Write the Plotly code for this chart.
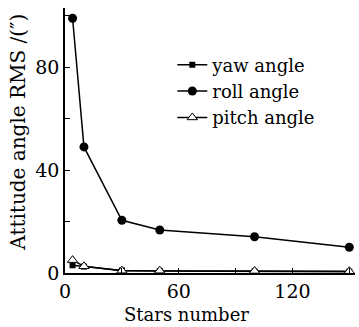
import plotly.graph_objects as go

stars = [4, 10, 30, 50, 100, 150]
yaw = [3.0, 2.5, 1.0, 0.8, 0.6, 0.5]
roll = [99.0, 49.0, 20.5, 16.7, 14.1, 10.0]
pitch = [5.0, 2.6, 0.9, 0.9, 0.8, 0.7]

x_title = "Stars number"
y_title = "Attitude angle RMS /(″)"

font_family = "DejaVu Serif"

fig = go.Figure()
fig.add_trace(go.Scatter(
    x=stars, y=roll, name="roll angle", mode="lines+markers",
    line=dict(color="black", width=1.5),
    marker=dict(symbol="circle", size=9, color="black"),
    legendrank=2,
))
fig.add_trace(go.Scatter(
    x=stars, y=yaw, name="yaw angle", mode="lines+markers",
    line=dict(color="black", width=1.5),
    marker=dict(symbol="square", size=6, color="black"),
    legendrank=1,
))
fig.add_trace(go.Scatter(
    x=stars, y=pitch, name="pitch angle", mode="lines+markers",
    line=dict(color="black", width=1.5),
    marker=dict(symbol="triangle-up", size=9, color="white",
                line=dict(color="black", width=1)),
    legendrank=3,
))

fig.update_layout(
    width=359, height=327,
    margin=dict(l=65, r=4, t=8, b=54),
    paper_bgcolor="white", plot_bgcolor="white",
    font=dict(family=font_family, size=19, color="black"),
    legend=dict(
        x=0.37, y=0.855, xanchor="left", yanchor="top",
        traceorder="normal", bgcolor="rgba(0,0,0,0)",
        font=dict(size=18), itemwidth=30, tracegroupgap=0,
    ),
    xaxis=dict(
        range=[0, 153], tickvals=[0, 30, 60, 90, 120, 150],
        ticktext=["0", "", "60", "", "120", ""],
        ticks="inside", ticklen=5, tickwidth=1.2, tickcolor="black",
        showline=True, linecolor="black", linewidth=1.5,
        showgrid=False, zeroline=False,
    ),
    yaxis=dict(
        range=[0, 103], tickvals=[0, 20, 40, 60, 80, 100],
        ticktext=["0", "", "40", "", "80", ""],
        ticks="inside", ticklen=5, tickwidth=1.2, tickcolor="black",
        showline=True, linecolor="black", linewidth=1.5,
        showgrid=False, zeroline=False,
    ),
    annotations=[
        dict(text=x_title, xref="paper", yref="paper", x=0.418, y=-0.158,
             xanchor="center", yanchor="middle", showarrow=False,
             font=dict(size=18)),
        dict(text=y_title, xref="paper", yref="paper", x=-0.165, y=0.53,
             xanchor="center", yanchor="middle", showarrow=False,
             textangle=-90, font=dict(size=20)),
    ],
)

fig.write_html("out.html")
